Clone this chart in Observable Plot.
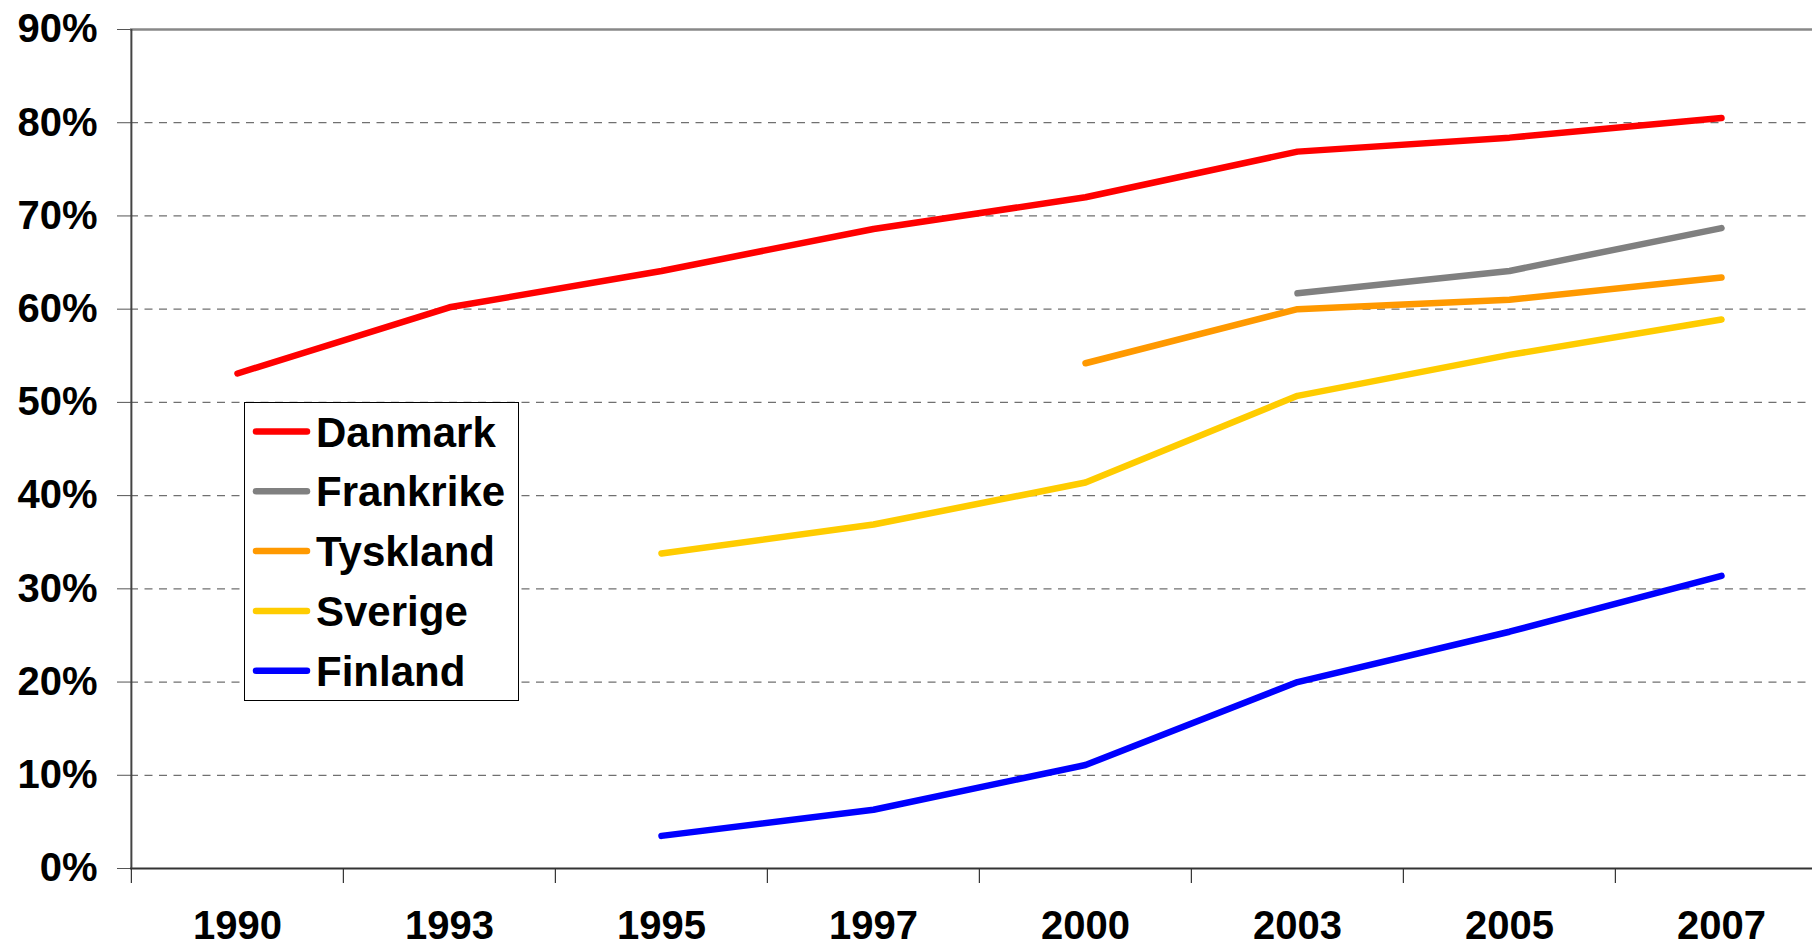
<!DOCTYPE html>
<html>
<head>
<meta charset="utf-8">
<script src="https://cdn.jsdelivr.net/npm/d3@7"></script>
<script src="https://cdn.jsdelivr.net/npm/@observablehq/plot@0.6"></script>
<style>
  html, body { margin: 0; padding: 0; background: #fff; }
  #wrap { position: relative; width: 1812px; height: 947px; overflow: hidden; font-family: "Liberation Sans", Arial, sans-serif; }
  #legend { position: absolute; left: 244px; top: 402px; width: 275px; height: 299px; box-sizing: border-box; border: 1.5px solid #000; background: #fff; }
</style>
</head>
<body>
<div id="wrap"><div id="legend"></div></div>
<script>
const years = ["1990", "1993", "1995", "1997", "2000", "2003", "2005", "2007"];
const countries = ["Danmark", "Frankrike", "Tyskland", "Sverige", "Finland"];
const colors = ["#FF0000", "#808080", "#FF9900", "#FFCC00", "#0000FF"];
const danmark   = [53.1, 60.2, 64.1, 68.6, 72.0, 76.9, 78.4, 80.5];
const frankrike = [null, null, null, null, null, 61.7, 64.1, 68.7];
const tyskland  = [null, null, null, null, 54.2, 60.0, 61.0, 63.4];
const sverige   = [null, null, 33.8, 36.9, 41.4, 50.7, 55.1, 58.9];
const finland   = [null, null, 3.5, 6.3, 11.1, 20.0, 25.4, 31.4];
const yTicks = [0, 10, 20, 30, 40, 50, 60, 70, 80, 90];
const gridTicks = [10, 20, 30, 40, 50, 60, 70, 80];

const seriesValues = [danmark, frankrike, tyskland, sverige, finland];
const data = [];
countries.forEach((c, ci) => {
  seriesValues[ci].forEach((v, i) => {
    if (v != null) data.push({country: c, year: years[i], value: v});
  });
});

const xRange = [130, 1828];
const bw = (xRange[1] - xRange[0]) / years.length;

const chart = Plot.plot({
  width: 1812,
  height: 947,
  marginLeft: 130,
  marginRight: 0,
  marginTop: 29,
  marginBottom: 79,
  style: {fontFamily: "'Liberation Sans', Arial, sans-serif", fontWeight: "bold", background: "transparent", color: "#000"},
  x: {type: "band", domain: years, range: xRange, padding: 0, label: null},
  y: {domain: [0, 90], label: null},
  color: {domain: countries, range: colors},
  marks: [
    Plot.ruleY(gridTicks, {stroke: "#707070", strokeWidth: 1.2, strokeDasharray: "8,6.5"}),
    Plot.ruleY([90], {stroke: "#888", strokeWidth: 2.5}),
    Plot.ruleY([0], {stroke: "#333", strokeWidth: 2.2}),
    Plot.ruleX([years[0]], {dx: -bw / 2, stroke: "#444", strokeWidth: 2}),
    Plot.ruleX(years, {dx: -bw / 2, y1: 0, y2: 0, insetBottom: -15, stroke: "#333", strokeWidth: 1.2}),
    Plot.axisY({ticks: yTicks, tickSize: 13, tickPadding: 20, fontSize: 40, fontWeight: "bold", stroke: "#555", tickFormat: d => d + "%"}),
    Plot.axisX({tickSize: 0, tickPadding: 42, fontSize: 40, fontWeight: "bold"}),
    Plot.line(data, {x: "year", y: "value", z: "country", stroke: "country", strokeWidth: 6.5, strokeLinecap: "round", strokeLinejoin: "round"})
  ]
});
const wrap = document.getElementById("wrap");
wrap.insertBefore(chart, wrap.firstChild);

// legend
const ns = "http://www.w3.org/2000/svg";
const lsvg = document.createElementNS(ns, "svg");
lsvg.setAttribute("width", 272);
lsvg.setAttribute("height", 296);
lsvg.style.display = "block";
countries.forEach((c, i) => {
  const cy = 28.5 + i * 59.8;
  const ln = document.createElementNS(ns, "line");
  ln.setAttribute("x1", 11); ln.setAttribute("x2", 62);
  ln.setAttribute("y1", cy); ln.setAttribute("y2", cy);
  ln.setAttribute("stroke", colors[i]);
  ln.setAttribute("stroke-width", 6.5);
  ln.setAttribute("stroke-linecap", "round");
  lsvg.appendChild(ln);
  const t = document.createElementNS(ns, "text");
  t.setAttribute("x", 71);
  t.setAttribute("y", cy);
  t.setAttribute("dy", "0.36em");
  t.setAttribute("font-size", 42);
  t.setAttribute("font-weight", "bold");
  t.setAttribute("font-family", "'Liberation Sans', Arial, sans-serif");
  t.textContent = c;
  lsvg.appendChild(t);
});
document.getElementById("legend").appendChild(lsvg);
</script>
</body>
</html>
